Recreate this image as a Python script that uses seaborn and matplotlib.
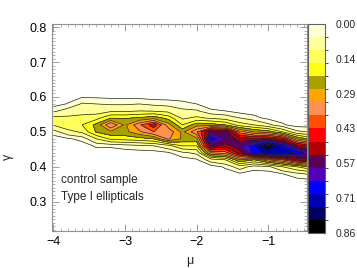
import numpy as np
import matplotlib
matplotlib.use("Agg")
import matplotlib.pyplot as plt
import matplotlib.colorbar as mcolorbar
import seaborn as sns
from matplotlib.colors import ListedColormap, BoundaryNorm
from matplotlib.ticker import MultipleLocator

# grid of the density map
mu = np.array([-4.0, -3.8, -3.6, -3.4, -3.2, -3.0, -2.8, -2.6, -2.4, -2.2,
               -2.0, -1.8, -1.6, -1.4, -1.2, -1.0, -0.8, -0.6, -0.4])
gamma = np.array([0.62, 0.60, 0.58, 0.56, 0.54, 0.52, 0.50, 0.48, 0.46,
                  0.44, 0.42, 0.40, 0.38, 0.36, 0.34, 0.32, 0.30])

# one list per mu column, values in colour-band units (0..16), top to bottom in gamma
density_cols = [
    [0, 0, 0, 0.8, 2.3, 2.1, 0.6, 0, 0, 0, 0, 0, 0, 0, 0, 0, 0],
    [0, 0, 0.35, 1.4, 2.2, 2.8, 1.6, 0.2, 0, 0, 0, 0, 0, 0, 0, 0, 0],
    [0, 0.25, 1.1, 1.5, 2.4, 3.0, 2.2, 0.5, 0, 0, 0, 0, 0, 0, 0, 0, 0],
    [0, 0.2, 1.0, 1.5, 2.6, 4.3, 4.1, 2.0, 0.4, 0, 0, 0, 0, 0, 0, 0, 0],
    [0, 0.15, 0.9, 1.8, 3.9, 7.0, 4.8, 3.2, 0.4, 0, 0, 0, 0, 0, 0, 0, 0],
    [0, 0.1, 0.9, 1.8, 3.9, 4.8, 4.7, 3.4, 0.6, 0, 0, 0, 0, 0, 0, 0, 0],
    [0, 0.1, 1.0, 2.0, 4.1, 6.8, 5.8, 3.6, 0.8, 0, 0, 0, 0, 0, 0, 0, 0],
    [0, 0, 0.8, 1.9, 4.6, 8.6, 7.0, 4.0, 1.0, 0, 0, 0, 0, 0, 0, 0, 0],
    [0, 0, 0.7, 1.7, 3.6, 5.5, 6.8, 6.2, 1.6, 0.2, 0, 0, 0, 0, 0, 0, 0],
    [0, 0, 0.5, 1.2, 1.8, 3.0, 4.7, 4.8, 3.0, 0.8, 0, 0, 0, 0, 0, 0, 0],
    [0, 0, 0.3, 1.1, 2.2, 4.6, 6.9, 4.7, 3.0, 1.2, 0.2, 0, 0, 0, 0, 0, 0],
    [0, 0, 0, 0.4, 1.8, 4.5, 10.5, 12.6, 10.5, 6.0, 1.5, 0, 0, 0, 0, 0, 0],
    [0, 0, 0, 0.3, 1.5, 4.0, 10.5, 11.0, 9.5, 6.5, 2.0, 0.4, 0, 0, 0, 0, 0],
    [0, 0, 0, 0, 1.0, 2.5, 6.5, 9.5, 10.8, 9.5, 5.0, 1.5, 0.2, 0, 0, 0, 0],
    [0, 0, 0, 0, 0.5, 2.0, 5.0, 9.3, 12.5, 12.5, 4.0, 0.6, 0, 0, 0, 0, 0],
    [0, 0, 0, 0, 0.1, 1.2, 4.5, 9.3, 15.5, 13.5, 6.0, 0.8, 0, 0, 0, 0, 0],
    [0, 0, 0, 0, 0, 0.4, 3.0, 8.5, 12.5, 14.0, 7.0, 2.0, 0.3, 0, 0, 0, 0],
    [0, 0, 0, 0, 0, 0, 1.2, 5.0, 9.5, 12.8, 9.0, 3.0, 0.8, 0, 0, 0, 0],
    [0, 0, 0, 0, 0, 0, 0.9, 3.5, 8.5, 11.0, 10.0, 4.0, 1.2, 0.1, 0, 0, 0],
]

band_colors = ['#FFFFD8', '#FFFF9C', '#FFFF5A', '#FFFF14', '#A8A000', '#FFA500',
               '#FF9050', '#FF5000', '#FF0000', '#B00000', '#5A0058', '#5000B8',
               '#0000FF', '#0000B0', '#000060', '#000000']
cbar_ticks = [0, 1/7, 2/7, 3/7, 4/7, 5/7, 6/7]

labels = ["control sample", "Type I ellipticals"]

sns.set_style("ticks")
plt.rcParams['font.family'] = ['Liberation Sans', 'DejaVu Sans']

scale = (6 / 7) / 16
Z = np.array(density_cols).T * scale
levels = np.r_[0.3, np.arange(1, 17)] * scale
cmap = ListedColormap(band_colors)

fig = plt.figure(figsize=(3.57, 2.68), dpi=100)
ax = fig.add_axes([0.1457, 0.138, 0.7143, 0.7724])

ax.contourf(mu, gamma, Z, levels=levels, colors=band_colors)
ax.contour(mu, gamma, Z, levels=levels, colors='#202020', linewidths=0.5)

ax.set_xlim(-4.02, -0.46)
ax.set_ylim(0.216, 0.809)
ax.xaxis.set_major_locator(MultipleLocator(1))
ax.xaxis.set_minor_locator(MultipleLocator(0.1))
ax.yaxis.set_major_locator(MultipleLocator(0.1))
ax.yaxis.set_minor_locator(MultipleLocator(0.01))
ax.tick_params(which='both', direction='in', top=True, right=True,
               color='#909090', labelsize=9, labelcolor='black')
ax.tick_params(which='major', length=5, width=0.6)
ax.tick_params(which='minor', length=2.5, width=0.5)
for sp in ax.spines.values():
    sp.set_color('#909090')
    sp.set_linewidth(0.8)

ax.set_xlabel('μ', fontsize=9)
ax.set_ylabel('γ', fontsize=9)
ax.xaxis.set_label_coords(0.54, -0.115)
ax.yaxis.set_label_coords(-0.15, 0.36)

ax.text(0.035, 0.246, labels[0], transform=ax.transAxes, fontsize=8.5, va='center')
ax.text(0.035, 0.164, labels[1], transform=ax.transAxes, fontsize=8.5, va='center')

# colour bar, 0 on top
cax = fig.add_axes([0.8627, 0.1306, 0.0476, 0.78])
norm = BoundaryNorm(np.arange(17) * scale, 16)
cb = mcolorbar.ColorbarBase(cax, cmap=cmap, norm=norm, orientation='vertical')
cb.set_ticks(cbar_ticks)
cb.set_ticklabels(['%.2f' % t for t in cbar_ticks])
cax.invert_yaxis()
cax.tick_params(direction='in', length=3, width=0.6, color='#909090',
                labelsize=7.5, pad=8)
cb.outline.set_edgecolor('#606060')
cb.outline.set_linewidth(0.8)

fig.savefig('out.png', dpi=100)
